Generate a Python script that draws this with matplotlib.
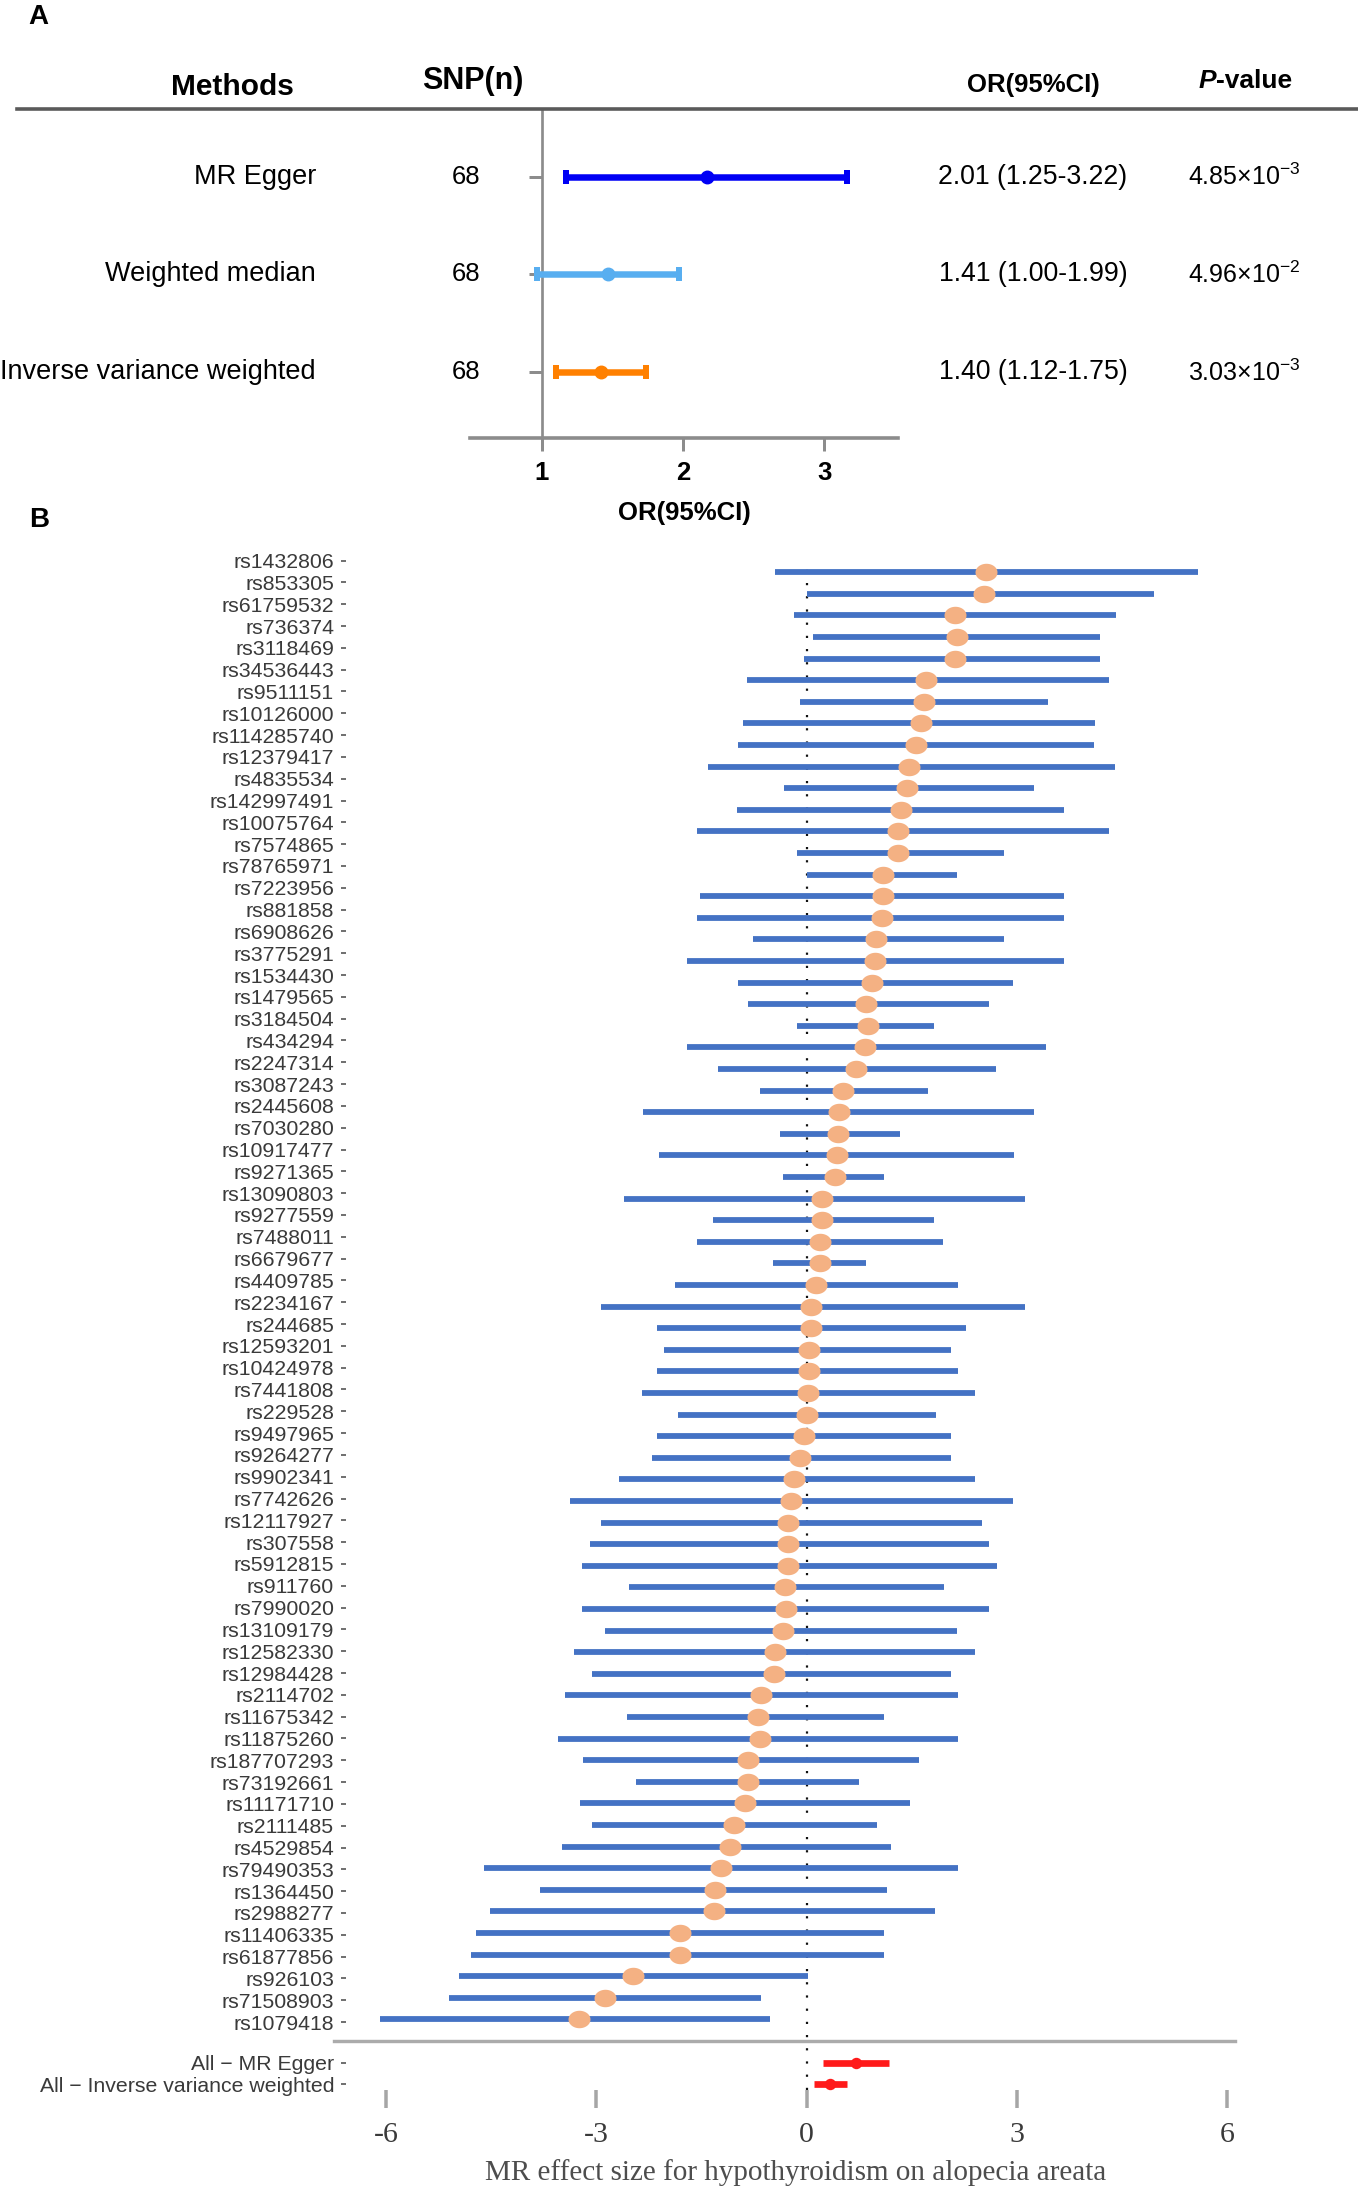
import numpy as np
import matplotlib
matplotlib.use("Agg")
import matplotlib.pyplot as plt
import matplotlib.transforms as mtrans
from matplotlib.lines import Line2D

plt.rcParams['font.family'] = ['Liberation Sans', 'DejaVu Sans']
plt.rcParams['mathtext.fontset'] = 'custom'
plt.rcParams['mathtext.rm'] = 'Liberation Sans'
plt.rcParams['mathtext.it'] = 'Liberation Sans:italic'
plt.rcParams['mathtext.bf'] = 'Liberation Sans:bold'

# ---------------- data: panel A ----------------
methods = ["MR Egger", "Weighted median", "Inverse variance weighted"]
nsnp = [68, 68, 68]
or_pt = [2.17, 1.47, 1.42]
or_lo = [1.17, 0.97, 1.10]
or_hi = [3.16, 1.97, 1.74]
or_text = ["2.01 (1.25-3.22)", "1.41 (1.00-1.99)", "1.40 (1.12-1.75)"]
p_mant = ["4.85", "4.96", "3.03"]
p_exp = ["-3", "-2", "-3"]
method_colors = ["#0000F5", "#58AEF0", "#FF8000"]
ticksA = [1, 2, 3]

# ---------------- data: panel B ----------------
snps = ["rs1432806", "rs853305", "rs61759532", "rs736374", "rs3118469", "rs34536443",
        "rs9511151", "rs10126000", "rs114285740", "rs12379417", "rs4835534", "rs142997491",
        "rs10075764", "rs7574865", "rs78765971", "rs7223956", "rs881858", "rs6908626",
        "rs3775291", "rs1534430", "rs1479565", "rs3184504", "rs434294", "rs2247314",
        "rs3087243", "rs2445608", "rs7030280", "rs10917477", "rs9271365", "rs13090803",
        "rs9277559", "rs7488011", "rs6679677", "rs4409785", "rs2234167", "rs244685",
        "rs12593201", "rs10424978", "rs7441808", "rs229528", "rs9497965", "rs9264277",
        "rs9902341", "rs7742626", "rs12117927", "rs307558", "rs5912815", "rs911760",
        "rs7990020", "rs13109179", "rs12582330", "rs12984428", "rs2114702", "rs11675342",
        "rs11875260", "rs187707293", "rs73192661", "rs11171710", "rs2111485", "rs4529854",
        "rs79490353", "rs1364450", "rs2988277", "rs11406335", "rs61877856", "rs926103",
        "rs71508903", "rs1079418"]
b = [2.56, 2.53, 2.11, 2.14, 2.11, 1.70, 1.67, 1.63, 1.56, 1.46, 1.43, 1.34,
     1.31, 1.31, 1.09, 1.09, 1.08, 0.99, 0.97, 0.93, 0.84, 0.87, 0.83, 0.70,
     0.52, 0.46, 0.45, 0.43, 0.40, 0.22, 0.22, 0.19, 0.19, 0.13, 0.06, 0.06,
     0.04, 0.03, 0.02, 0.00, -0.04, -0.10, -0.18, -0.22, -0.27, -0.27, -0.26, -0.31,
     -0.30, -0.34, -0.45, -0.47, -0.65, -0.69, -0.66, -0.84, -0.84, -0.88, -1.04, -1.10,
     -1.22, -1.31, -1.32, -1.81, -1.81, -2.47, -2.88, -3.24]
lo = [-0.45, 0.00, -0.18, 0.09, -0.04, -0.85, -0.10, -0.91, -0.98, -1.41, -0.32, -0.99,
      -1.57, -0.14, 0.01, -1.52, -1.57, -0.77, -1.70, -0.98, -0.83, -0.14, -1.70, -1.27,
      -0.66, -2.33, -0.38, -2.10, -0.34, -2.61, -1.34, -1.57, -0.48, -1.88, -2.94, -2.13,
      -2.03, -2.13, -2.35, -1.83, -2.13, -2.20, -2.68, -3.37, -2.94, -3.09, -3.21, -2.54,
      -3.21, -2.88, -3.32, -3.06, -3.45, -2.56, -3.55, -3.19, -2.43, -3.23, -3.06, -3.49,
      -4.60, -3.81, -4.52, -4.71, -4.78, -4.96, -5.10, -6.08]
hi = [5.58, 4.96, 4.41, 4.19, 4.19, 4.31, 3.44, 4.11, 4.10, 4.40, 3.24, 3.67,
      4.31, 2.82, 2.15, 3.67, 3.67, 2.82, 3.67, 2.95, 2.60, 1.82, 3.41, 2.70,
      1.73, 3.25, 1.33, 2.96, 1.10, 3.12, 1.82, 1.95, 0.85, 2.16, 3.12, 2.27,
      2.06, 2.16, 2.40, 1.84, 2.06, 2.06, 2.40, 2.95, 2.50, 2.60, 2.71, 1.96,
      2.60, 2.15, 2.40, 2.06, 2.16, 1.10, 2.16, 1.60, 0.75, 1.48, 1.00, 1.20,
      2.16, 1.14, 1.83, 1.10, 1.11, 0.02, -0.65, -0.52]
sum_labels = ["All \u2212 MR Egger", "All \u2212 Inverse variance weighted"]
sum_b = [0.70, 0.34]
sum_lo = [0.23, 0.11]
sum_hi = [1.18, 0.57]
ticksB = [-6, -3, 0, 3, 6]
xlabelB = "MR effect size for hypothyroidism on alopecia areata"

# ---------------- figure ----------------
W, H = 1358, 2186
PT = 0.72
fig = plt.figure(figsize=(W / 100, H / 100), dpi=100)


def fx(px):
    return px / W


def fy(py):
    return 1 - py / H


# ================= Panel A =================
axA = fig.add_axes([fx(470), fy(438), fx(898) - fx(470), (438 - 109) / H])
rowsA = np.arange(1, len(methods) + 1)
axA.set_xlim(0.493, 3.52)
axA.set_ylim(3.67, 0.31)
for s in ["top", "right", "left"]:
    axA.spines[s].set_visible(False)
axA.spines["bottom"].set_color("#8c8c8c")
axA.spines["bottom"].set_linewidth(3.6 * PT)
axA.axvline(1, color="#8c8c8c", lw=2.7 * PT, zorder=1)
axA.plot(np.ones(len(rowsA)), rowsA, ls="none", marker=0, ms=13 * PT,
         mew=3 * PT, color="#8c8c8c", clip_on=False, zorder=1)
axA.set_yticks([])
axA.set_xticks(ticksA)
axA.set_xticklabels([str(t) for t in ticksA], fontweight="bold", fontsize=18.5)
axA.tick_params(axis="x", length=13 * PT, width=3 * PT, color="#8c8c8c", pad=7)
for i in range(len(methods)):
    pt, l, h = or_pt[i], or_lo[i], or_hi[i]
    axA.errorbar([pt], [rowsA[i]], xerr=[[pt - l], [h - pt]], fmt="o",
                 color=method_colors[i], ecolor=method_colors[i],
                 elinewidth=6.5 * PT, capsize=7 * PT, capthick=6 * PT,
                 ms=12.5 * PT, zorder=3, clip_on=False)

trA = mtrans.blended_transform_factory(fig.transFigure, axA.transData)
for i in range(len(methods)):
    fig.text(fx(316), rowsA[i], methods[i], transform=trA, ha="right", va="center",
             fontsize=19.5, color="black")
    fig.text(fx(466), rowsA[i], str(nsnp[i]), transform=trA, ha="center", va="center",
             fontsize=18.5, color="black")
    fig.text(fx(1033), rowsA[i], or_text[i], transform=trA, ha="center", va="center",
             fontsize=19.2, color="black")
    fig.text(fx(1244), rowsA[i], p_mant[i] + "\u00d710$^{" + p_exp[i].replace("-", "\u2212") + "}$",
             transform=trA, ha="center", va="center", fontsize=18, color="black")

# header
fig.text(fx(232), fy(87), "Methods", ha="center", va="center", fontsize=21.5, fontweight="bold")
fig.text(fx(473), fy(81), "SNP(n)", ha="center", va="center", fontsize=22, fontweight="bold")
fig.text(fx(1033), fy(85), "OR(95%CI)", ha="center", va="center", fontsize=18.5, fontweight="bold")
fig.text(fx(1216), fy(81), "P", ha="right", va="center", fontsize=19, fontweight="bold",
         fontstyle="italic")
fig.text(fx(1216), fy(81), "-value", ha="left", va="center", fontsize=19, fontweight="bold")
fig.add_artist(Line2D([fx(17), 1.0], [fy(109), fy(109)], transform=fig.transFigure,
                      color="#5a5a5a", lw=3.6 * PT))
fig.text(fx(684), fy(513), "OR(95%CI)", ha="center", va="center", fontsize=18.5, fontweight="bold")

fig.text(fx(38), fy(17), "A", ha="center", va="center", fontsize=20, fontweight="bold")
fig.text(fx(39), fy(520), "B", ha="center", va="center", fontsize=20, fontweight="bold")

# ================= Panel B =================
axB = fig.add_axes([fx(346), fy(2090), fx(1235) - fx(346), (2090 - 559.3) / H])
n = len(snps)
ypos = np.arange(1, n + 1)
sum_pos = n + 2 + np.arange(len(sum_labels))
axB.set_xlim(-6.57, 6.11)
axB.set_ylim(71.27, 0.4)
for s in axB.spines.values():
    s.set_visible(False)

axB.axvline(0, color="#111111", lw=2.2 * PT, ls=(0, (1, 5)), zorder=1)
axB.hlines(ypos, lo, hi, color="#4472C4", lw=5.8 * PT, zorder=2)
theta = np.linspace(0, 2 * np.pi, 80)
ell = np.column_stack([1.26 * np.cos(theta), np.sin(theta)])
axB.plot(b, ypos, ls="none", marker=ell, ms=22 * PT, color="#F4B183",
         mec="#F4B183", mew=0, zorder=3)
axB.axhline(n + 1, color="#ababab", lw=3.4 * PT, xmin=-0.0135, clip_on=False, zorder=2)
axB.hlines(sum_pos, sum_lo, sum_hi, color="#FF1A1A", lw=6.7 * PT, zorder=2)
axB.plot(sum_b, sum_pos, ls="none", marker="o", ms=10 * PT, color="#FF1A1A", zorder=3)

label_pos = list(0.46 + (ypos - 1) * 1.0099) + list(sum_pos)
axB.set_yticks(label_pos)
axB.set_yticklabels(snps + sum_labels)
axB.tick_params(axis="y", length=5 * PT, width=1.5 * PT, color="#444444", pad=5,
                labelsize=15.3, labelcolor="#3a3a3a")
axB.set_xticks(ticksB)
axB.set_xticklabels([str(t) for t in ticksB], fontfamily="Liberation Serif",
                    fontsize=21.5, color="#3a3a3a")
axB.tick_params(axis="x", length=18 * PT, width=3.5 * PT, color="#a6a6a6", pad=10)

fig.text(fx(796), fy(2173), xlabelB, ha="center", va="center", fontsize=21,
         fontfamily="Liberation Serif", color="#4d4d4d")

fig.savefig("out.png", dpi=100, facecolor="white")
